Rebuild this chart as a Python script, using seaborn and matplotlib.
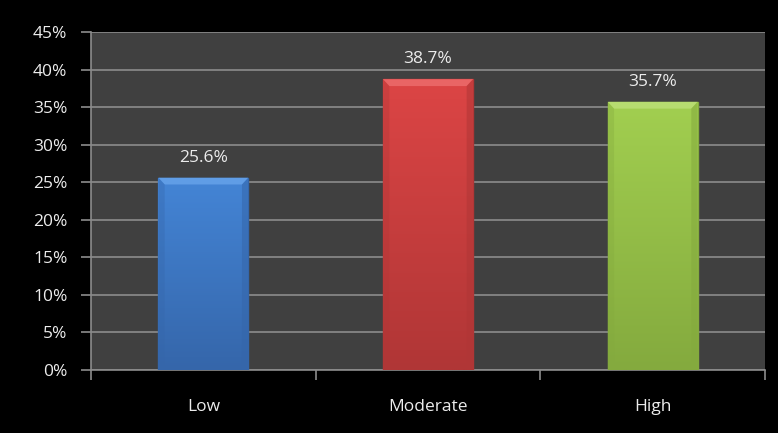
import matplotlib
matplotlib.use("Agg")
import matplotlib.pyplot as plt
import numpy as np
import pandas as pd
import seaborn as sns
from matplotlib.patches import Polygon
from matplotlib.colors import LinearSegmentedColormap

categories = ["Low", "Moderate", "High"]
values = [25.6, 38.7, 35.7]
labels = ["25.6%", "38.7%", "35.7%"]
y_ticks = [0, 5, 10, 15, 20, 25, 30, 35, 40, 45]
y_tick_labels = ["0%", "5%", "10%", "15%", "20%", "25%", "30%", "35%", "40%", "45%"]

top_colors = ["#4485d6", "#dc4545", "#a2cf50"]
bottom_colors = ["#3566aa", "#b03636", "#84aa3e"]
bevel_colors = ["#66a2ea", "#ec6c6c", "#bcdf76"]

sns.set_theme(style="dark")
plt.rcParams["font.family"] = ["Open Sans", "DejaVu Sans"]

df = pd.DataFrame({"category": categories, "value": values})

fig = plt.figure(figsize=(7.78, 4.33), dpi=100, facecolor="black")
ax = fig.add_axes([91 / 778, 1 - 370 / 433, (765 - 91) / 778, (370 - 32) / 433])
ax.set_facecolor("#404040")

sns.barplot(data=df, x="category", y="value", hue="category", palette=top_colors,
            width=0.4, legend=False, ax=ax, saturation=1, zorder=3)

ax.set_ylim(0, 45)
ax.set_xlim(-0.5, 2.5)
ax.set_yticks(y_ticks)
ax.set_yticklabels(y_tick_labels)
ax.yaxis.grid(True, color="#8c8c8c", linewidth=1.2, zorder=0)
ax.xaxis.grid(False)
ax.set_axisbelow(True)

text_color = "#ececec"
font_size = 12.5

# Gradient fill and bevel on each bar
for i, patch in enumerate(ax.patches):
    x0, y0 = patch.get_x(), patch.get_y()
    w, h = patch.get_width(), patch.get_height()
    cmap = LinearSegmentedColormap.from_list("g", [bottom_colors[i], top_colors[i]])
    grad = np.linspace(0, 1, 256).reshape(-1, 1)
    im = ax.imshow(grad, cmap=cmap, origin="lower", aspect="auto",
                   extent=[x0, x0 + w, y0, y0 + h], zorder=3)
    im.set_clip_path(patch)
    patch.set_edgecolor(bottom_colors[i])
    patch.set_linewidth(1.0)
    bw = w * 0.07
    bh = 45 * 0.02
    top = Polygon([[x0, y0 + h], [x0 + w, y0 + h], [x0 + w - bw, y0 + h - bh],
                   [x0 + bw, y0 + h - bh]], closed=True, facecolor=bevel_colors[i],
                  edgecolor="none", zorder=4, alpha=0.85)
    ax.add_patch(top)
    left = Polygon([[x0, y0 + h], [x0 + bw, y0 + h - bh], [x0 + bw, y0], [x0, y0]],
                   closed=True, facecolor=bottom_colors[i], edgecolor="none",
                   zorder=4, alpha=0.35)
    ax.add_patch(left)
    right = Polygon([[x0 + w, y0 + h], [x0 + w - bw, y0 + h - bh], [x0 + w - bw, y0],
                     [x0 + w, y0]], closed=True, facecolor=bottom_colors[i],
                    edgecolor="none", zorder=4, alpha=0.55)
    ax.add_patch(right)
    ax.text(x0 + w / 2, values[i] + 1.6, labels[i], ha="center", va="bottom",
            color=text_color, fontsize=font_size, zorder=5)

ax.set_xlabel("")
ax.set_ylabel("")
for side in ["top", "right"]:
    ax.spines[side].set_visible(False)
for side in ["left", "bottom"]:
    ax.spines[side].set_visible(True)
    ax.spines[side].set_color("#8c8c8c")
    ax.spines[side].set_linewidth(1.2)

ax.tick_params(axis="y", colors="#8c8c8c", labelcolor=text_color, labelsize=font_size,
               length=7, width=1.2, direction="out", left=True, pad=10)
ax.tick_params(axis="x", which="major", labelcolor=text_color, labelsize=font_size,
               length=0, pad=21)
ax.set_xticks([-0.5, 0.5, 1.5, 2.5], minor=True)
ax.tick_params(axis="x", which="minor", colors="#8c8c8c", length=7, width=1.2,
               direction="out", bottom=True)

fig.savefig("out.png", dpi=100, facecolor="black")
